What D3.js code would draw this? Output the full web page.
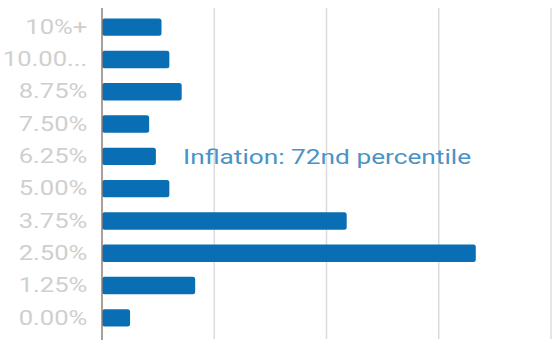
<!DOCTYPE html>
<html>
<head>
<meta charset="utf-8">
<script src="https://cdn.jsdelivr.net/npm/d3@7"></script>
<style>
  body { margin: 0; background: #fff; }
  text { font-family: Roboto, sans-serif; }
</style>
</head>
<body>
<div id="chart"></div>
<script>
// Inflation distribution bins (share of observations, %)
var categories = ["10%+", "10.00...", "8.75%", "7.50%", "6.25%", "5.00%", "3.75%", "2.50%", "1.25%", "0.00%"];
var shares = [5.3, 6.0, 7.1, 4.2, 4.8, 6.0, 21.8, 33.3, 8.3, 2.5];
var gridTicks = [10, 20, 30, 40];
var annotation = "Inflation: 72nd percentile";

var width = 558, height = 346;
var margin = {top: 11, right: 6, bottom: 10, left: 102};
// the source picture is stretched sideways, so text gets a wider scale
var stretch = "scale(1.22,1)";

var svg = d3.select("#chart").append("svg")
    .attr("width", width)
    .attr("height", height);

var x = d3.scaleLinear()
    .domain([0, 40])
    .range([margin.left, 551]);

var y = d3.scaleBand()
    .domain(categories)
    .range([margin.top, 334])
    .paddingInner(0.46)
    .paddingOuter(0.23);

// vertical gridlines
svg.selectAll(".grid")
    .data(gridTicks)
    .enter().append("line")
    .attr("class", "grid")
    .attr("x1", function(d) { return x(d); })
    .attr("x2", function(d) { return x(d); })
    .attr("y1", 8)
    .attr("y2", 339)
    .attr("stroke", "#dcdcdc")
    .attr("stroke-width", 1.5);

// bars
svg.selectAll(".bar")
    .data(shares)
    .enter().append("rect")
    .attr("class", "bar")
    .attr("x", x(0))
    .attr("y", function(d, i) { return y(categories[i]); })
    .attr("width", function(d) { return x(d) - x(0); })
    .attr("height", y.bandwidth())
    .attr("rx", 2.5)
    .attr("fill", "#0a6eb4");

// category labels
var yAxis = d3.axisLeft(y).tickSize(0).tickPadding(12);
var gy = svg.append("g")
    .attr("transform", "translate(" + margin.left + ",0)")
    .call(yAxis);
gy.select(".domain").remove();
gy.selectAll("text")
    .attr("transform", stretch)
    .attr("fill", "#cfcfcf")
    .style("font-size", "21px")
    .style("font-family", "Roboto, sans-serif");

// baseline
svg.append("line")
    .attr("x1", x(0))
    .attr("x2", x(0))
    .attr("y1", 8)
    .attr("y2", 340)
    .attr("stroke", "#8f7f76")
    .attr("stroke-width", 1.5);

svg.append("text")
    .attr("transform", "translate(183," + (y("6.25%") + y.bandwidth() / 2 + 8) + ") scale(1.25,1)")
    .attr("fill", "#4a93c4")
    .style("font-size", "21px")
    .text(annotation);
</script>
</body>
</html>
